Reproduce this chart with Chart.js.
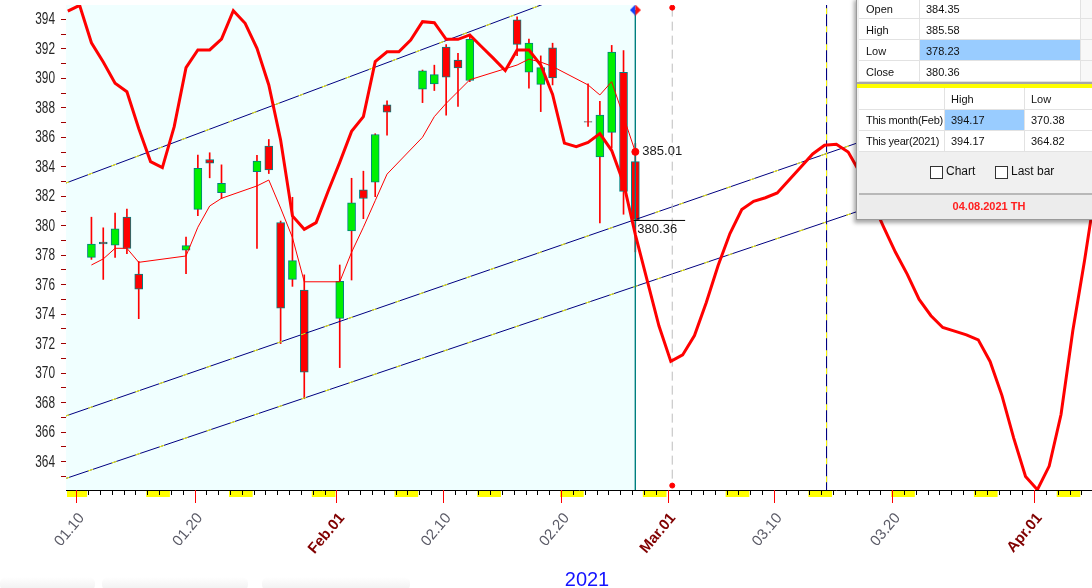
<!DOCTYPE html>
<html>
<head>
<meta charset="utf-8">
<script src="https://cdn.jsdelivr.net/npm/chart.js@4.4.1/dist/chart.umd.min.js"></script>
<style>
  html, body { margin: 0; padding: 0; background: #fff; overflow: hidden; }
  #wrap { position: relative; width: 1092px; height: 588px; }
  #chart { position: absolute; left: 0; top: 0; }
  .panel { position: absolute; left: 856px; top: -3px; width: 240px; height: 222px; background: #f0f0f0;
           border-left: 1px solid #9a9a9a; border-bottom: 1px solid #9a9a9a;
           box-shadow: -2px 3px 4px rgba(0,0,0,0.35); font: 11px "Liberation Sans", Arial, sans-serif; color: #111; }
  .c { position: absolute; box-sizing: border-box; background: #fff; border-right: 1px solid #e2e2e2; border-bottom: 1px solid #e2e2e2;
       padding-left: 6px; line-height: 20px; white-space: nowrap; overflow: visible; }
  .hl { background: #99ccff; }
  .sep1 { position: absolute; left: 0; top: 85px; width: 240px; height: 2px; background: #a8a8a8; }
  .sep2 { position: absolute; left: 0; top: 87px; width: 240px; height: 4px; background: #ffff00; }
  .chk { position: absolute; width: 11px; height: 11px; border: 1px solid #333; background: #fff; }
  .lbl { position: absolute; font-size: 12px; }
  .foot { position: absolute; left: 2px; top: 198px; width: 240px; height: 24px; background: #ececec;
          border-top: 2px solid #b8b8b8; box-sizing: border-box; text-align: center; line-height: 23px;
          color: #ff2020; font-weight: bold; }
  .foot span { position: relative; left: 11px; }
  .smudge { position: absolute; top: 577px; height: 14px; border-radius: 6px;
            background: linear-gradient(#ffffff, #efefef); }
</style>
</head>
<body>
<div id="wrap">
  <canvas id="chart" width="1092" height="588"></canvas>
  <div class="smudge" style="left:0;width:95px"></div>
  <div class="smudge" style="left:102px;width:146px"></div>
  <div class="smudge" style="left:262px;width:148px"></div>
  <div class="panel" id="panel"></div>
</div>
<script>
// ---- trading days: offset in calendar days from 2021-01-10 ----
const candleDays = [1, 2, 3, 4, 5, 9, 10, 11, 12, 15, 16, 17, 18, 19, 22, 23, 24, 25, 26,
                    29, 30, 31, 32, 33, 37, 38, 39, 40, 43, 44, 45, 46, 47];
const opens  = [377.85, 378.89, 378.69, 380.59, 376.72, 378.34, 381.11, 384.49, 382.25, 383.67, 385.41,
                380.22, 376.36, 375.63, 373.72, 379.65, 382.44, 382.96, 388.20, 389.27, 389.61, 392.12,
                391.24, 389.85, 393.96, 390.42, 389.59, 392.07, 387.06, 384.66, 386.33, 390.41, 384.35];
const highs  = [380.58, 379.86, 380.86, 381.13, 377.58, 379.23, 384.79, 384.95, 384.13, 384.77, 385.85,
                380.32, 381.93, 376.67, 377.34, 383.22, 383.70, 386.24, 388.47, 390.56, 390.89, 392.28,
                391.69, 392.90, 394.17, 392.66, 391.52, 392.38, 389.62, 388.43, 392.23, 391.88, 385.58];
const lows   = [377.72, 376.36, 377.85, 378.10, 373.70, 376.75, 380.69, 383.25, 381.84, 378.46, 383.54,
                372.01, 375.89, 368.27, 370.38, 376.32, 380.48, 381.97, 386.14, 388.35, 389.17, 387.50,
                388.10, 389.77, 391.53, 389.33, 387.74, 389.55, 386.74, 380.20, 385.27, 380.78, 378.23];
const closes = [378.76, 378.77, 379.79, 378.46, 375.70, 378.65, 383.89, 384.24, 382.88, 384.39, 383.79,
                374.41, 377.63, 370.07, 376.23, 381.55, 381.85, 386.19, 387.71, 390.51, 390.25, 390.08,
                390.71, 392.64, 392.30, 392.39, 390.72, 390.03, 387.03, 387.50, 391.77, 382.33, 380.36];
// thin red average line, one value per candle
const avgLine = [377.34, 377.75, 378.47, 378.47, 377.52, 377.95, 379.9, 381.34, 381.86, 382.7, 383.1,
                 381.2, 379.2, 376.2, 376.2, 378.2, 379.9, 381.7, 383.5, 386.0, 387.4, 388.3,
                 389.1, 389.9, 390.9, 391.3, 391.1, 390.8, 389.55, 388.87, 389.77, 387.4, 385.01];

// thick red cycle line, one value per calendar day starting at day -1 (01.09)
const cycleStartDay = -1;
const cycleValues = [394.55, 394.95, 392.41, 391.1, 389.66, 389.09, 386.6, 384.35, 383.94, 386.72,
                     390.72, 391.92, 391.92, 392.66, 394.58, 393.73, 392.03, 389.55, 385.82, 380.67,
                     379.76, 380.21, 382.31, 384.3, 386.4, 387.4, 391.13, 391.8, 391.8, 392.6,
                     393.84, 393.77, 392.64, 392.64, 392.94, 392.14, 391.35, 390.52, 391.92, 391.92,
                     390.9, 388.9, 385.6, 385.36, 385.65, 386.25, 385.1, 382.9, 379.4, 376.3,
                     373.2, 370.8, 371.24, 372.55, 374.8, 377.3, 379.47, 381.1, 381.66, 381.9,
                     382.22, 383.1, 383.99, 384.87, 385.46, 385.53, 385.0, 383.6, 381.7, 379.9,
                     378.2, 376.7, 375.0, 373.9, 373.1, 372.85, 372.6, 372.26, 370.8, 368.5,
                     365.6, 363.0, 362.1, 363.7, 367.2, 372.9, 377.7, 382.9];

// channel lines (start day / end day and their values)
const upperChannel  = [{ day: -1, value: 382.86 }, { day: 40, value: 395.18 }];
const middleChannel = [{ day: -1, value: 367.07 }, { day: 86, value: 391.13 }];
const lowerChannel  = [{ day: -1, value: 362.83 }, { day: 86, value: 386.36 }];

// markers
const lastBarDay = 47.28;
const lastAvg = 385.01, lastClose = 380.36;
const dashedDay = 50.4, dashedTop = 394.79, dashedBottom = 362.38;
const blueLineDay = 63.45;
const topMarkValue = 394.63;

// axis labels
const yLabelValues = [364, 366, 368, 370, 372, 374, 376, 378, 380, 382, 384, 386, 388, 390, 392, 394];
const xLabelDays  = [0, 10, 22, 31, 41, 50, 59, 69, 81];
const xLabelTexts = ["01.10", "01.20", "Feb.01", "02.10", "02.20", "Mar.01", "03.10", "03.20", "Apr.01"];
const xLabelMonth = [false, false, true, false, false, true, false, false, true];
const weekendStarts = [-1, 6, 13, 20, 27, 34, 41, 48, 55, 62, 69, 76, 83];
const yearLabel = "2021";

// info panel
const ohlcRows = [["Open", "384.35"], ["High", "385.58"], ["Low", "378.23"], ["Close", "380.36"]];
const rangeHead = ["", "High", "Low"];
const rangeRows = [["This month(Feb)", "394.17", "370.38"], ["This year(2021)", "394.17", "364.82"]];
const footText = "04.08.2021 TH";

// ==============================================================
const BAR_SHIFT = 0.28;  // candle sits a bit right of its day tick
const X_MIN = -0.871, X_MAX = 85.9;
const Y_MIN = 362.08, Y_MAX = 394.97;

Chart.defaults.font.family = "'Liberation Sans', Arial, sans-serif";

const bodyData = candleDays.map((d, i) => ({ x: d + BAR_SHIFT, y: [opens[i], closes[i]] }));
const wickData = candleDays.map((d, i) => ({ x: d + BAR_SHIFT, y: [lows[i], highs[i]] }));
const bodyColors = candleDays.map((d, i) => closes[i] >= opens[i] ? "#00f000" : "#ff0000");
const avgData = candleDays.map((d, i) => ({ x: d + BAR_SHIFT, y: avgLine[i] }));
const cycleData = cycleValues.map((v, i) => ({ x: cycleStartDay + i + BAR_SHIFT, y: v }));
const toPts = arr => arr.map(p => ({ x: p.day, y: p.value }));

// split diamond for the top of the last-bar line
const diamond = document.createElement("canvas");
diamond.width = 11; diamond.height = 11;
(function () {
  const g = diamond.getContext("2d");
  g.fillStyle = "#1040ff";
  g.beginPath(); g.moveTo(5.5, 0); g.lineTo(0, 5.5); g.lineTo(5.5, 11); g.closePath(); g.fill();
  g.fillStyle = "#ff1010";
  g.beginPath(); g.moveTo(5.5, 0); g.lineTo(11, 5.5); g.lineTo(5.5, 11); g.closePath(); g.fill();
})();

function channel(pts, order) {
  return [
    { type: "line", data: toPts(pts), borderColor: "#000080", borderWidth: 1, pointRadius: 0, order: order },
    { type: "line", data: toPts(pts), borderColor: "#ffff00", borderWidth: 1, borderDash: [5, 20], pointRadius: 0, order: order - 0.5 }
  ];
}

const decor = {
  id: "decor",
  beforeDatasetsDraw(chart) {
    const { ctx, chartArea: a, scales: { x } } = chart;
    ctx.save();
    ctx.fillStyle = "#f0ffff";
    const xr = x.getPixelForValue(lastBarDay);
    ctx.fillRect(a.left, a.top, xr - a.left, a.bottom - a.top);
    ctx.restore();
  },
  afterDraw(chart) {
    const { ctx, chartArea: a, scales: { x, y } } = chart;
    ctx.save();
    // weekends under the axis
    ctx.fillStyle = "#ffff00";
    weekendStarts.forEach(d => {
      const x0 = Math.max(a.left + 1, x.getPixelForValue(d) - 1);
      const x1 = x.getPixelForValue(d + 2) - 1;
      ctx.fillRect(x0, a.bottom + 1, x1 - x0, 6);
    });
    // day ticks
    ctx.fillStyle = "#000";
    for (let d = Math.ceil(X_MIN); d <= X_MAX; d++) {
      ctx.fillRect(Math.round(x.getPixelForValue(d)), a.bottom, 1, 5);
    }
    ctx.fillStyle = "#ff0000";
    xLabelDays.forEach(d => ctx.fillRect(Math.round(x.getPixelForValue(d)), a.bottom, 1, 13));
    // date labels
    xLabelDays.forEach((d, i) => {
      const px = x.getPixelForValue(d);
      ctx.save();
      ctx.translate(px + 5.5, a.bottom + 25.5);
      ctx.rotate(-50 * Math.PI / 180);
      ctx.textAlign = "right";
      ctx.textBaseline = "middle";
      ctx.font = xLabelMonth[i] ? "bold 15px 'Liberation Sans'" : "15px 'Liberation Sans'";
      ctx.fillStyle = xLabelMonth[i] ? "#800000" : "#5a5a66";
      ctx.fillText(xLabelTexts[i], 0, 0);
      ctx.restore();
    });
    // value labels (narrow face)
    ctx.fillStyle = "#262626";
    ctx.textAlign = "right";
    ctx.textBaseline = "middle";
    ctx.font = "16px 'Liberation Sans'";
    yLabelValues.forEach(v => {
      ctx.save();
      ctx.translate(55, y.getPixelForValue(v) + 0.5);
      ctx.scale(0.74, 1);
      ctx.fillText(String(v), 0, 0);
      ctx.restore();
    });
    // year
    ctx.fillStyle = "#1414ff";
    ctx.textAlign = "center";
    ctx.textBaseline = "alphabetic";
    ctx.font = "20px 'Liberation Sans'";
    ctx.fillText(yearLabel, 587, 586);
    // last bar annotations
    const lx = x.getPixelForValue(lastBarDay);
    ctx.fillStyle = "#1a1a1a";
    ctx.textAlign = "left";
    ctx.font = "13px 'Liberation Sans'";
    ctx.textBaseline = "middle";
    ctx.fillText(lastAvg.toFixed(2), lx + 7, y.getPixelForValue(lastAvg));
    ctx.textBaseline = "top";
    ctx.fillText(lastClose.toFixed(2), lx + 2, y.getPixelForValue(lastClose) + 2);
    ctx.restore();
  }
};

new Chart(document.getElementById("chart"), {
  type: "bar",
  data: {
    datasets: [
      { type: "bar", data: wickData, backgroundColor: "#ff0000", barThickness: 1, grouped: false, order: 20 },
      { type: "bar", data: bodyData, backgroundColor: bodyColors, borderColor: "#008080", borderWidth: 1,
        borderSkipped: false, barThickness: 8, grouped: false, order: 19 },
      ...channel(upperChannel, 15),
      ...channel(middleChannel, 14),
      ...channel(lowerChannel, 13),
      { type: "line", data: [{ x: blueLineDay, y: Y_MAX + 1 }, { x: blueLineDay, y: Y_MIN }],
        borderColor: "#000080", borderWidth: 1, pointRadius: 0, order: 12 },
      { type: "line", data: [{ x: blueLineDay, y: Y_MAX + 1 }, { x: blueLineDay, y: Y_MIN }],
        borderColor: "#ffff00", borderWidth: 1, borderDash: [6, 12], pointRadius: 0, order: 11.5 },
      { type: "line", data: [{ x: dashedDay, y: dashedTop }, { x: dashedDay, y: dashedBottom }],
        borderColor: "#bdbdbd", borderWidth: 1, borderDash: [9, 5], pointRadius: 2.5,
        pointBackgroundColor: "#ff0000", pointBorderColor: "#ff0000", order: 11 },
      { type: "line", data: [{ x: lastBarDay, y: topMarkValue }, { x: lastBarDay, y: Y_MIN }],
        borderColor: "#008080", borderWidth: 1, pointRadius: [5, 0], pointStyle: [diamond, "circle"], order: 10 },
      { type: "line", data: [{ x: 47.0, y: lastClose }, { x: 51.49, y: lastClose }],
        borderColor: "#000", borderWidth: 1, pointRadius: 0, order: 9 },
      { type: "line", data: avgData, borderColor: "#ff0000", borderWidth: 1, order: 8,
        pointRadius: ctx => ctx.dataIndex === avgData.length - 1 ? 3.5 : 0,
        pointBackgroundColor: "#ff0000", pointBorderColor: "#ff0000" },
      { type: "line", data: cycleData, borderColor: "#ff0000", borderWidth: 3, pointRadius: 0, order: 1 }
    ]
  },
  options: {
    responsive: false,
    animation: false,
    events: [],
    layout: { autoPadding: false, padding: { top: 5, right: 0, left: 0, bottom: 0 } },
    plugins: { legend: { display: false }, tooltip: { enabled: false } },
    scales: {
      x: {
        type: "linear", min: X_MIN, max: X_MAX, offset: false,
        grid: { display: false, offset: false },
        ticks: { display: false },
        border: { display: true, color: "#000", width: 1 },
        afterFit(s) { s.height = 98; }
      },
      y: {
        type: "linear", min: Y_MIN, max: Y_MAX, beginAtZero: false,
        ticks: { display: false, stepSize: 1, includeBounds: false },
        grid: { drawOnChartArea: false, drawTicks: true, tickLength: 5, color: "#a00000" },
        border: { display: true, color: "#000", width: 1 },
        afterFit(s) { s.width = 66; }
      }
    }
  },
  plugins: [decor]
});

// ---- info panel (HTML overlay) ----
(function () {
  const p = document.getElementById("panel");
  const add = (cls, l, t, w, h, txt, extra) => {
    const e = document.createElement("div");
    e.className = cls;
    e.style.cssText = `left:${l}px;top:${t}px;width:${w}px;height:${h}px;` + (extra || "");
    if (txt !== undefined) e.textContent = txt;
    p.appendChild(e);
    return e;
  };
  // panel left = 856 page px, top = -3
  ohlcRows.forEach((r, i) => {
    const t = 1 + i * 21;
    add("c", 2, t, 61, 21, r[0], "padding-left:7px;line-height:22px;");
    add("c" + (r[0] === "Low" ? " hl" : ""), 63, t, 161, 21, r[1], "line-height:22px;");
    add("c", 224, t, 16, 21, "", "background:#f8f8f8;border-right:none;");
  });
  add("sep1", 0, 85, 240, 2);
  add("sep2", 0, 87, 240, 4);
  const cols = [[2, 86], [88, 80], [168, 72]];
  rangeHead.forEach((h, j) => add("c", cols[j][0], 91, cols[j][1], 22, h, "line-height:22px;"));
  rangeRows.forEach((r, i) => {
    const t = 113 + i * 21;
    r.forEach((v, j) => add("c" + (i === 0 && j === 1 ? " hl" : ""), cols[j][0], t, cols[j][1], 21, v,
      "line-height:21px;padding-left:" + (j === 0 ? 7 : 6) + "px;" + (j === 0 ? "letter-spacing:-0.25px;" : "")));
  });
  add("chk", 73, 169, 11, 11);
  add("lbl", 89, 167, 40, 14, "Chart");
  add("chk", 138, 169, 11, 11);
  add("lbl", 154, 167, 60, 14, "Last bar");
  const f = add("foot", 2, 196, 238, 26);
  const s = document.createElement("span"); s.textContent = footText; f.appendChild(s);
})();
</script>
</body>
</html>
